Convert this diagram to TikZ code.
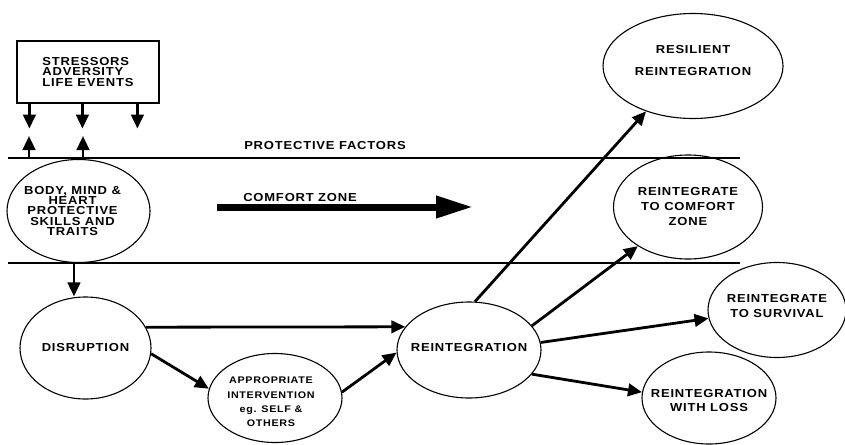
\documentclass[tikz,border=0pt]{standalone}
\usepackage{fontspec}
\usetikzlibrary{shapes.geometric,arrows.meta}
\newfontfamily\lblfont[LetterSpace=7,FakeStretch=1.12]{Liberation Sans}
\newcommand{\lbltext}[2]{\lblfont\bfseries\fontsize{#1}{#2}\selectfont}

\begin{document}
\begin{tikzpicture}[x=1pt,y=-1pt]

\tikzstyle{block} = [draw, line width=1.2pt, inner sep=0pt, align=left, font=\lbltext{11.6}{10.2}]
\tikzstyle{oval} = [draw, ellipse, line width=1.1pt, inner sep=0pt]
\tikzstyle{lbl} = [inner sep=0pt, align=center, font=\lbltext{11.6}{10.4}]
\tikzstyle{arr} = [line width=2.8pt, -{Triangle[length=14pt,width=12.5pt]}]
\tikzstyle{zone} = [draw, line width=1.2pt]

\useasboundingbox (0,0) rectangle (845,444);
\coordinate (origin) at (0,0);

%Stressors: top left

\path (origin)+(88,72) node (stress) [block, minimum width=142pt, minimum height=62pt] {STRESSORS\\ADVERSITY\\LIFE EVENTS};

%Comfort zone band

\path (origin)+(8,158) coordinate (prot_l);
\path (origin)+(740,158) coordinate (prot_r);
\path (origin)+(8,263) coordinate (zone_l);
\path (origin)+(740,263) coordinate (zone_r);
\draw [zone] (prot_l) -- (prot_r);
\draw [zone] (zone_l) -- (zone_r);

\path (origin)+(325,146) node (prot_txt) [lbl] {PROTECTIVE FACTORS};
\path (origin)+(300,198) node (zone_txt) [lbl] {COMFORT ZONE};
\path (zone_txt)+(-83,9) coordinate (zone_a);
\path (zone_txt)+(173,9) coordinate (zone_b);

%Body, mind and heart: middle left

\path (origin)+(78.5,211) node (body) [oval, minimum width=143pt, minimum height=103pt,
  label={[lbl, xshift=-6pt]center:BODY, MIND \&\\HEART\\PROTECTIVE\\SKILLS AND\\TRAITS}] {};

%Disruption and intervention: bottom left

\path (origin)+(85.5,348) node (disr) [oval, minimum width=131pt, minimum height=102pt,
  label={[lbl]center:DISRUPTION}] {};

\path (origin)+(275,398) node (inter) [oval, minimum width=134pt, minimum height=89pt,
  label={[lbl, font={\lbltext{9.6}{14.3}}, xshift=-4pt, yshift=-4pt]center:APPROPRIATE\\INTERVENTION\\eg. SELF \&\\OTHERS}] {};

\path (origin)+(469,350) node (reint) [oval, minimum width=144pt, minimum height=96pt,
  label={[lbl, yshift=2pt]center:REINTEGRATION}] {};

%Outcomes: right

\path (origin)+(693,66) node (resil) [oval, minimum width=180pt, minimum height=105pt,
  label={[lbl, font={\lbltext{11.6}{22}}, yshift=5pt]center:RESILIENT\\REINTEGRATION}] {};

\path (origin)+(688,207) node (comf) [oval, minimum width=149pt, minimum height=104pt,
  label={[lbl, font={\lbltext{11.6}{15}}]center:REINTEGRATE\\TO COMFORT\\ZONE}] {};

\path (origin)+(777,310) node (surv) [oval, minimum width=138pt, minimum height=95pt,
  label={[lbl, font={\lbltext{11.6}{15}}, yshift=4pt]center:REINTEGRATE\\TO SURVIVAL}] {};

\path (origin)+(709,398) node (loss) [oval, minimum width=134pt, minimum height=92pt,
  label={[lbl, font={\lbltext{11.6}{14}}, yshift=-3pt]center:REINTEGRATION\\WITH LOSS}] {};

%Arrows

\foreach \dx [count=\i] in {13,66,121} {
  \path (stress.south west)+(\dx,0) coordinate (down_\i a) +(\dx,25) coordinate (down_\i b);
  \draw [arr] (down_\i a) -- (down_\i b);
}

\foreach \dx [count=\i] in {21,75} {
  \path (prot_l)+(\dx,0) coordinate (up_\i a) +(\dx,-22) coordinate (up_\i b);
  \draw [arr] (up_\i a) -- (up_\i b);
}

\draw [line width=7pt, -{Triangle[length=37pt,width=21pt]}] (zone_a) -- (zone_b);

\draw [arr] (body.265) -- (body.265 |- disr.north);
\draw [arr] (disr.19) -- (reint.160);
\draw [arr] (disr.355) -- (inter.172);
\draw [arr] (inter.5) -- (reint.182);

\draw [arr] (reint.83) -- (resil.224);
\draw [arr] (reint.21) -- (comf.218);
\draw [arr] (reint.6) -- (surv.187);
\draw [arr] (reint.339) -- (loss.175);

\end{tikzpicture}
\end{document}
